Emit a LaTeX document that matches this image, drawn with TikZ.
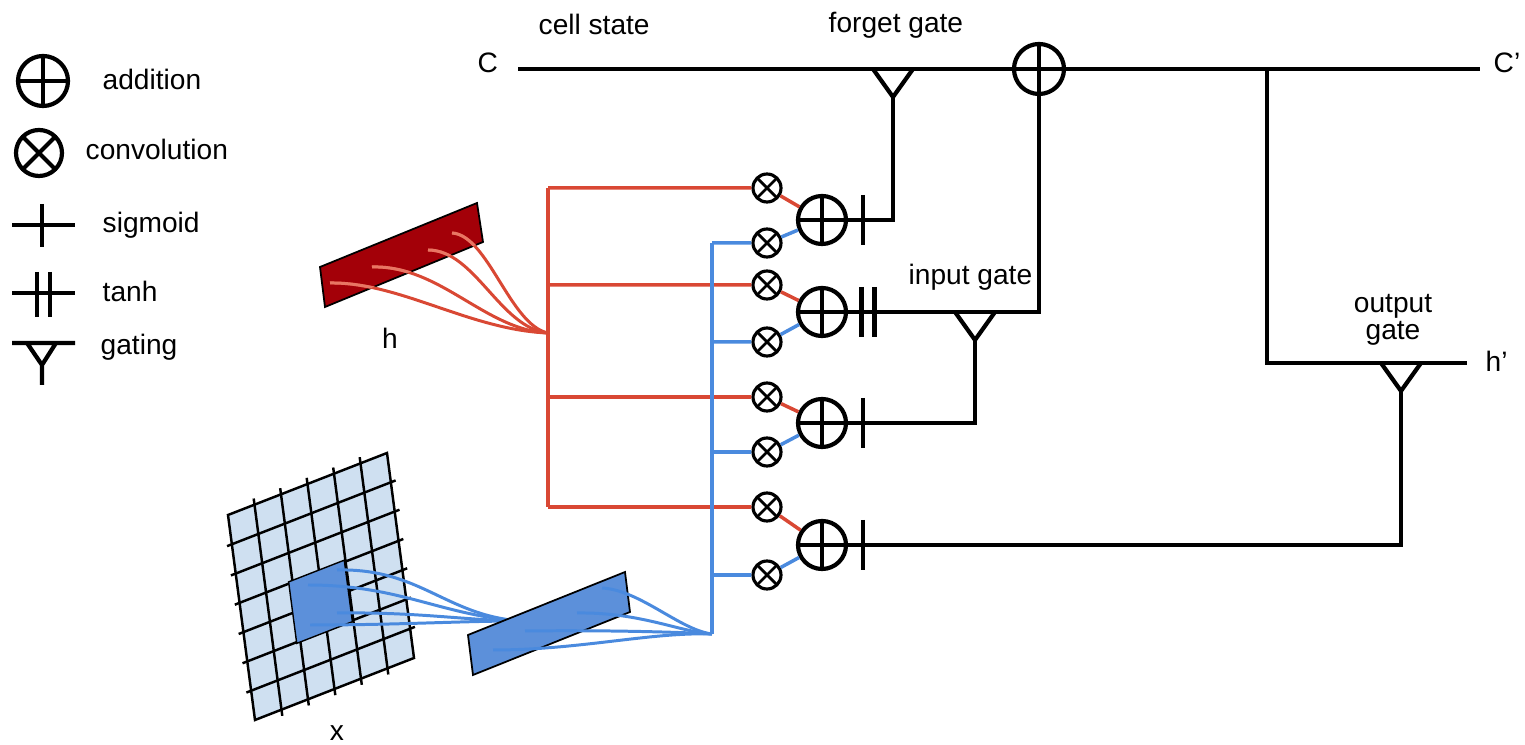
\documentclass[tikz,border=0pt]{standalone}
\usepackage{fontspec}
\setmainfont{Liberation Sans}
\definecolor{hred}{RGB}{217,72,52}
\definecolor{hlight}{RGB}{232,118,100}
\definecolor{hdark}{RGB}{163,0,8}
\definecolor{xblue}{RGB}{74,138,222}
\definecolor{xpatch}{RGB}{92,144,218}
\definecolor{xgrid}{RGB}{207,224,241}

\begin{document}
\begin{tikzpicture}[
        x=0.1mm, y=-0.1mm, % one pixel of the sketch, y downwards
        font=\fontsize{8}{9.6}\selectfont,
        wire/.style={line width=1.2pt}, % black lines
        hwire/.style={draw=hred, line width=1pt},
        xwire/.style={draw=xblue, line width=1pt},
        fan/.style={line width=0.85pt},
        gridline/.style={line width=0.7pt},
        plus/.style={circle, draw, line width=1.2pt, inner sep=0pt, minimum size=4.8mm,
            path picture={\draw[line width=1.2pt] (path picture bounding box.north) -- (path picture bounding box.south)
                (path picture bounding box.west) -- (path picture bounding box.east);}},
        conv/.style={circle, draw, line width=0.9pt, inner sep=0pt, minimum size=2.8mm,
            path picture={\draw[line width=#1] (path picture bounding box.north west) -- (path picture bounding box.south east)
                (path picture bounding box.south west) -- (path picture bounding box.north east);}},
        conv/.default=0.8pt,
        lbl/.style={inner sep=0pt, anchor=base west},
        sigmark/.pic={\draw[line width=1.2pt] (0,-25) -- (0,25);},
        tanhmark/.pic={\draw[line width=1.2pt] (-6.5,-25) -- (-6.5,25) (6.5,-25) -- (6.5,25);},
        gatemark/.pic={\draw[line width=1.2pt] (-20,0) -- (0,28) -- (20,0);},
    ]
    \useasboundingbox (0,0) rectangle (1525,745);

    % legend
    \node[plus, minimum size=5mm] (laddn) at (43,81) {};
    \node[lbl] at (102,90) {addition};
    \node[conv=1.2pt, minimum size=4.6mm, line width=1.2pt] (lconv) at (39,153) {};
    \node[lbl] at (85,160) {convolution};
    \draw[wire] (12,225) -- (75,225) (42,204) -- (42,247);
    \node[lbl] at (102,233) {sigmoid};
    \draw[wire] (12,293) -- (75,293) (37,272) -- (37,317) (50,272) -- (50,317);
    \node[lbl] at (102,302) {tanh};
    \draw[wire] (12,343) -- (75,343) (27,343) -- (42,365) -- (56,343) (42,365) -- (42,385);
    \node[lbl] at (100,355) {gating};

    % cell state
    \node[lbl] (cin) at (477,73) {C};
    \node[lbl] at (538,35) {cell state};
    \node[lbl] at (828,33) {forget gate};
    \coordinate (cstart) at (518,69);
    \node[plus, minimum size=5mm] (cadd) at (1039,69) {};
    \coordinate (otap) at (1267,69);
    \coordinate (cend) at (1480,69);
    \node[lbl] (cout) at (1493,73) {C'};
    \draw[wire] (cstart) -- (cadd) -- (cend);
    \pic at (893,69) {gatemark};
    \coordinate (fgate) at (893,97);

    % gates
    \foreach \i/\ya/\yr/\yb in {1/220/188/243, 2/312/285/342, 3/423/397/452, 4/545/507/575}{
        \node[plus] (add\i) at (822,\ya) {};
        \node[conv] (hc\i) at (767,\yr) {};
        \node[conv] (xc\i) at (767,\yb) {};
        \coordinate (hj\i) at (548,\yr);
        \coordinate (xj\i) at (712,\yb);
        \draw[hwire] (hj\i) -- (hc\i) -- (add\i);
        \draw[xwire] (xj\i) -- (xc\i) -- (add\i);
    }
    \pic at (863,220) {sigmark};
    \pic at (868,312) {tanhmark};
    \pic at (863,423) {sigmark};
    \pic at (863,545) {sigmark};

    % input and output gates
    \node[lbl] at (908,285) {input gate};
    \pic at (975,312) {gatemark};
    \coordinate (igate) at (975,339);
    \node[align=center, inner sep=0pt, font=\fontsize{8}{7.7}\selectfont] at (1393,320) {output\\gate};
    \coordinate (hout) at (1467,363);
    \node[lbl] at (1485,372) {h'};
    \pic at (1401,363) {gatemark};
    \coordinate (ogate) at (1401,390);

    \draw[wire] (add1) -| (fgate);
    \draw[wire] (add2) -| (cadd);
    \draw[wire] (add3) -| (igate);
    \draw[wire] (add4) -| (ogate);
    \draw[wire] (otap) |- (hout);

    % h input
    \draw[fill=hdark, line width=0.5pt] (320,267) -- (477,203) -- (483,242) -- (325,307) -- cycle;
    \node at (390,338) {h};
    \coordinate (hfan) at (548,333);
    \draw[hred, fan] (330,283) .. controls (400,282) and (470,330) .. (hfan);
    \draw[hred, fan] (372,267) .. controls (440,265) and (485,330) .. (hfan);
    \draw[hred, fan] (428,250) .. controls (475,250) and (500,328) .. (hfan);
    \draw[hred, fan] (452,233) .. controls (488,235) and (510,325) .. (hfan);
    \begin{scope} % lighter inside the h block
        \clip (320,267) -- (477,203) -- (483,242) -- (325,307) -- cycle;
        \draw[hlight, fan] (330,283) .. controls (400,282) and (470,330) .. (hfan);
        \draw[hlight, fan] (372,267) .. controls (440,265) and (485,330) .. (hfan);
        \draw[hlight, fan] (428,250) .. controls (475,250) and (500,328) .. (hfan);
        \draw[hlight, fan] (452,233) .. controls (488,235) and (510,325) .. (hfan);
    \end{scope}
    \draw[hwire] (hj1) -- (hj4);

    % x input
    \fill[xgrid] (228,515) -- (387,453) -- (415,657) -- (255,720) -- cycle;
    \begin{scope}[shift={(228,515)}, x={(15.9mm,6.2mm)}, y={(2.7mm,-20.5mm)}]
        \foreach \k in {1,...,5} \draw[gridline] (\k/6,-0.03) -- (\k/6,1.03);
        \foreach \k in {1,...,6} \draw[gridline] (-0.03,\k/7) -- (1.03,\k/7);
        \draw[gridline] (0,0) -- (1,0) -- (1,1) -- (0,1) -- cycle;
        \draw[fill=xpatch, line width=0.4pt] (0.31,0.42) -- (0.66,0.42) -- (0.66,0.72) -- (0.31,0.72) -- cycle;
    \end{scope}
    \node at (337,733) {x};
    \coordinate (xmid) at (520,621);
    \draw[xblue, fan] (337,570) .. controls (420,568) and (445,615) .. (xmid);
    \draw[xblue, fan] (308,585) .. controls (400,585) and (440,615) .. (xmid);
    \draw[xblue, fan] (337,613) .. controls (420,612) and (460,620) .. (xmid);
    \draw[xblue, fan] (310,625) .. controls (400,625) and (460,621) .. (xmid);
    \draw[fill=xpatch, line width=0.5pt] (468,635) -- (625,572) -- (630,612) -- (473,675) -- cycle;
    \coordinate (xbot) at (712,634);
    \draw[xblue, fan] (602,588) .. controls (640,590) and (680,630) .. (xbot);
    \draw[xblue, fan] (577,613) .. controls (640,612) and (680,632) .. (xbot);
    \draw[xblue, fan] (525,631) .. controls (600,630) and (680,632) .. (xbot);
    \draw[xblue, fan] (493,650) .. controls (580,650) and (650,632) .. (xbot);
    \draw[xwire] (xj1) -- (xbot);
\end{tikzpicture}
\end{document}
